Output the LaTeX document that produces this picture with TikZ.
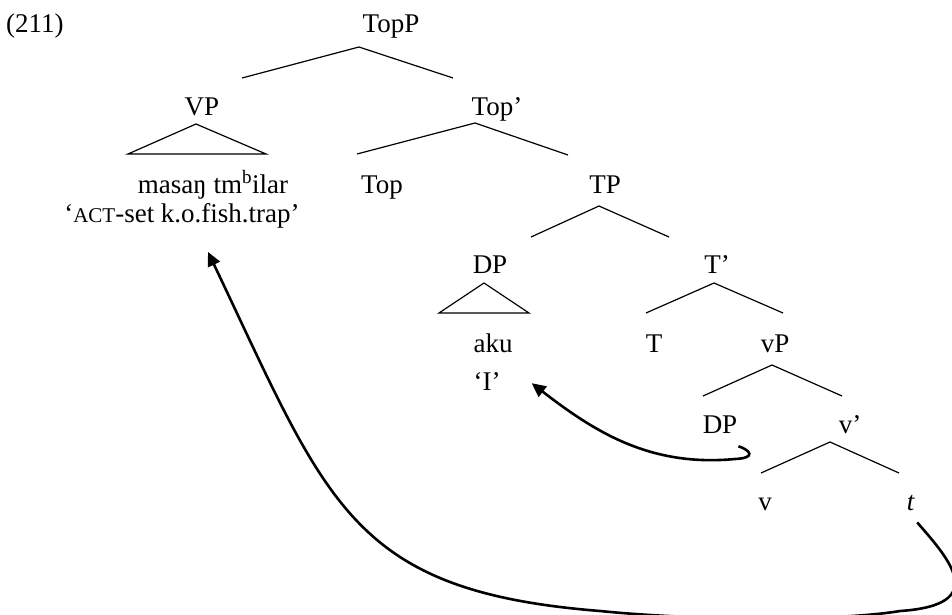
\documentclass[tikz,border=0pt]{standalone}
\usepackage{fontspec}
\setmainfont{Liberation Serif}
\usetikzlibrary{arrows.meta}

\begin{document}
\begin{tikzpicture}[x=1pt,y=-1pt,
    lbl/.style={inner sep=0pt, anchor=base, font=\fontsize{27pt}{32pt}\selectfont},
    branch/.style={line width=1.2pt},
    move/.style={line width=2.6pt, -{Triangle[length=14pt,width=13pt]}}]
  \useasboundingbox (0,0) rectangle (952,615);

  % example number
  \node[lbl, anchor=base west] (ex) at (6,33) {(211)};

  % tree labels
  \node[lbl] (topp)  at (391,33)  {TopP};
  \node[lbl] (vp)    at (202,115) {VP};
  \node[lbl] (topb)  at (497,115) {Top’};
  \node[lbl] (verb)  at (213,193) {masaŋ tm\textsuperscript{\fontsize{19pt}{20pt}\selectfont b}ilar};
  \node[lbl] (gloss) at (182,222) {‘{\fontsize{21pt}{24pt}\selectfont ACT}-set k.o.fish.trap’};
  \node[lbl] (top)   at (382,193) {Top};
  \node[lbl] (tp)    at (605,193) {TP};
  \node[lbl] (dpa)   at (490,273) {DP};
  \node[lbl] (tb)    at (717,273) {T’};
  \node[lbl] (aku)   at (493,352) {aku};
  \node[lbl] (akug)  at (487,390) {‘I’};
  \node[lbl] (t)     at (654,352) {T};
  \node[lbl] (vsp)   at (775,352) {vP};
  \node[lbl] (dpb)   at (720,433) {DP};
  \node[lbl] (vb)    at (850,433) {v’};
  \node[lbl] (v)     at (765,510) {v};
  \node[lbl] (tr)    at (911,510) {\textit{t}};

  % branches
  \draw[branch] (242,78) -- (359,47) -- (453,78);
  \draw[branch] (128,154) -- (196,124) -- (266,154) -- cycle;
  \draw[branch] (357,154) -- (475,123) -- (568,155);
  \draw[branch] (531,237) -- (599,206) -- (669,237);
  \draw[branch] (439,313) -- (484,283) -- (529,313) -- cycle;
  \draw[branch] (646,313) -- (714,283) -- (783,313);
  \draw[branch] (703,396) -- (772,365) -- (842,396);
  \draw[branch] (761,473) -- (830,442) -- (899,473);

  % movement arrows
  \draw[move] ([shift={(2pt,-12pt)}]tr.south east)
      .. controls (950,560) and (990,605) .. (900,611)
      .. controls (840,621) and (700,621) .. (600,611)
      .. controls (350,591) and (328,504) .. ([shift={(26pt,-24pt)}]gloss.south);
  \draw[move] ([shift={(1pt,-13pt)}]dpb.south east)
      .. controls (750,450) and (757,458) .. (735,459)
      .. controls (650,467) and (595,432) .. ([shift={(31pt,7pt)}]akug.south east);
\end{tikzpicture}
\end{document}
